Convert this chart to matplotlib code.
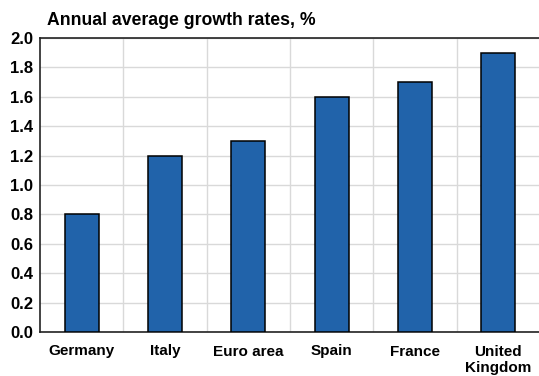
import matplotlib
matplotlib.use("Agg")
import matplotlib.pyplot as plt
import numpy as np

categories = ["Germany", "Italy", "Euro area", "Spain", "France", "United\nKingdom"]
values = [0.8, 1.2, 1.3, 1.6, 1.7, 1.9]
yticks = [0.0, 0.2, 0.4, 0.6, 0.8, 1.0, 1.2, 1.4, 1.6, 1.8, 2.0]
title = "Annual average growth rates, %"

plt.rcParams['font.family'] = ['Liberation Sans', 'DejaVu Sans']

fig = plt.figure(figsize=(5.39, 3.76), dpi=100)
ax = fig.add_axes([40/539, 1-332/376, 500/539, (332-38)/376])

x = np.arange(len(categories))
ax.bar(x, values, width=0.41, color="#2163AA", edgecolor="black", linewidth=1.1, zorder=3)

ax.set_xlim(-0.5, len(categories) - 0.5)
ax.set_ylim(0, 2.0)
ax.set_yticks(yticks)
ax.set_yticklabels([f"{v:.1f}" for v in yticks], fontsize=12, fontweight="bold")
ax.set_xticks(x)
ax.set_xticklabels(categories, fontsize=11, fontweight="bold", linespacing=1.2)
ax.set_xticks(np.arange(len(categories) - 1) + 0.5, minor=True)

ax.grid(axis="y", which="major", color="#d9d9d9", linewidth=1.0, zorder=0)
ax.grid(axis="x", which="minor", color="#d9d9d9", linewidth=1.0, zorder=0)
ax.tick_params(axis="both", which="both", length=0)
ax.tick_params(axis="x", pad=9)
ax.tick_params(axis="y", pad=5)

for s in ["left", "bottom", "top"]:
    ax.spines[s].set_color("#222222")
    ax.spines[s].set_linewidth(1.2)
ax.spines["right"].set_visible(False)

fig.text(47/539, 1-25/376, title, fontsize=12.7, fontweight="bold", ha="left", va="baseline")

fig.savefig("out.png", dpi=100)
